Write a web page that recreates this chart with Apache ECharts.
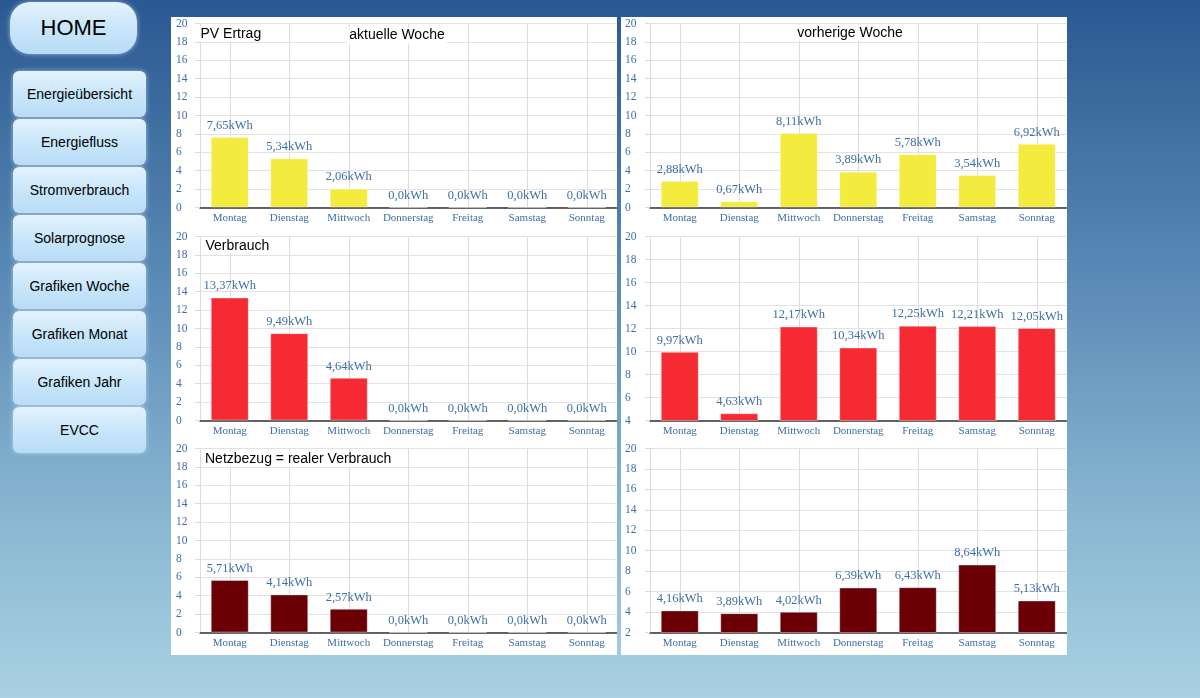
<!DOCTYPE html>
<html>
<head>
<meta charset="utf-8">
<script src="https://cdn.jsdelivr.net/npm/echarts@6/dist/echarts.min.js"></script>
<style>
  html, body { margin: 0; padding: 0; width: 1200px; height: 698px; overflow: hidden; }
  body { background: linear-gradient(to bottom, #2a5891 0%, #5a8ab6 40%, #8ab8d2 75%, #a9d1e2 100%); font-family: 'Liberation Sans', Arial, sans-serif; position: relative; }
  .btn { position: absolute; left: 13px; width: 133px; height: 46px; border-radius: 6px;
         background: linear-gradient(to bottom, #e4f3fd 0%, #c9e6fa 50%, #b7dcf6 100%);
         box-shadow: 0 0 5px rgba(220,240,255,0.6); color: #000; font-size: 14px;
         display: flex; align-items: center; justify-content: center; box-sizing: border-box; }
  .home { left: 10px; top: 2px; width: 127px; height: 52px; border-radius: 20px; font-size: 22px; }
  .panel { position: absolute; top: 17px; height: 638px; width: 446px; background: #fff; }
  #chart { position: absolute; left: 171px; top: 17px; width: 896px; height: 638px; }
</style>
</head>
<body>
<div class="btn home">HOME</div>
<div class="btn" style="top:71px">Energieübersicht</div>
<div class="btn" style="top:119px">Energiefluss</div>
<div class="btn" style="top:167px">Stromverbrauch</div>
<div class="btn" style="top:215px">Solarprognose</div>
<div class="btn" style="top:263px">Grafiken Woche</div>
<div class="btn" style="top:311px">Grafiken Monat</div>
<div class="btn" style="top:359px">Grafiken Jahr</div>
<div class="btn" style="top:407px">EVCC</div>
<div class="panel" style="left:171px"></div>
<div class="panel" style="left:621px"></div>
<div id="chart"></div>
<script>
const days = ['Montag', 'Dienstag', 'Mittwoch', 'Donnerstag', 'Freitag', 'Samstag', 'Sonntag'];
const pvCurrent = [7.65, 5.34, 2.06, 0, 0, 0, 0];
const pvPrevious = [2.88, 0.67, 8.11, 3.89, 5.78, 3.54, 6.92];
const useCurrent = [13.37, 9.49, 4.64, 0, 0, 0, 0];
const usePrevious = [9.97, 4.63, 12.17, 10.34, 12.25, 12.21, 12.05];
const gridCurrent = [5.71, 4.14, 2.57, 0, 0, 0, 0];
const gridPrevious = [4.16, 3.89, 4.02, 6.39, 6.43, 8.64, 5.13];
const yMins = [0, 0, 0, 4, 0, 2];
const yMax = 20;

const panels = [
  { data: pvCurrent, color: '#f3eb3d', col: 0, row: 0, min: yMins[0] },
  { data: pvPrevious, color: '#f3eb3d', col: 1, row: 0, min: yMins[1] },
  { data: useCurrent, color: '#f62a33', col: 0, row: 1, min: yMins[2] },
  { data: usePrevious, color: '#f62a33', col: 1, row: 1, min: yMins[3] },
  { data: gridCurrent, color: '#6a0005', col: 0, row: 2, min: yMins[4] },
  { data: gridPrevious, color: '#6a0005', col: 1, row: 2, min: yMins[5] }
];

const serif = "'Liberation Serif', 'Times New Roman', serif";
const sans = "'Liberation Sans', Arial, sans-serif";
const blue = '#3f6ea6';
const colLeft = [29, 479];
const rowTop = [6.5, 219.5, 431.5];

function fmt(v) { return v === 0 ? '0,0kWh' : v.toFixed(2).replace('.', ',') + 'kWh'; }

const grids = [], xAxes = [], yAxes = [], series = [];
panels.forEach((p, i) => {
  grids.push({ left: colLeft[p.col], top: rowTop[p.row], width: 416.5, height: 184, containLabel: false });
  xAxes.push({
    type: 'category', gridIndex: i, data: days, boundaryGap: true,
    axisLine: { show: true, lineStyle: { color: '#333', width: 1.5 } },
    axisTick: { show: false },
    axisLabel: { color: blue, fontFamily: serif, fontSize: 11, margin: 5, interval: 0 },
    splitLine: { show: true, alignWithLabel: true, lineStyle: { color: '#dcdcdc', width: 1 } }
  });
  yAxes.push({
    type: 'value', gridIndex: i, min: p.min, max: yMax, interval: 2,
    axisLine: { show: true, lineStyle: { color: '#dcdcdc', width: 1 } },
    axisTick: { show: true, length: 5, lineStyle: { color: '#dcdcdc' } },
    axisLabel: { color: blue, fontFamily: serif, fontSize: 11.5, align: 'left', margin: p.col === 0 ? 24 : 25 },
    splitLine: { show: true, lineStyle: { color: '#e2e2e2', width: 1 } }
  });
  series.push({
    type: 'bar', xAxisIndex: i, yAxisIndex: i, data: p.data, barWidth: 38,
    itemStyle: { color: p.color, borderColor: 'rgba(255,255,255,0.35)', borderWidth: 1 },
    label: { show: true, position: 'top', distance: 5, color: blue, fontFamily: serif, fontSize: 12.5,
             formatter: (o) => fmt(o.value) }
  });
});

const titleStyle = (text, x, y, align) => ({
  type: 'text', x: x, y: y, z: 100,
  style: { text: text, fill: '#000', font: '14px ' + sans, textAlign: align, textVerticalAlign: 'middle',
           backgroundColor: '#fff', padding: [1, 2] }
});

const chart = echarts.init(document.getElementById('chart'), null, { renderer: 'canvas' });
chart.setOption({
  animation: false,
  grid: grids,
  xAxis: xAxes,
  yAxis: yAxes,
  series: series,
  graphic: [
    titleStyle('PV Ertrag', 27.5, 17, 'left'),
    titleStyle('aktuelle Woche', 226, 18.5, 'center'),
    titleStyle('vorherige Woche', 679, 15.7, 'center'),
    titleStyle('Verbrauch', 32.5, 229, 'left'),
    titleStyle('Netzbezug = realer Verbrauch', 32, 442, 'left')
  ]
});
</script>
</body>
</html>
